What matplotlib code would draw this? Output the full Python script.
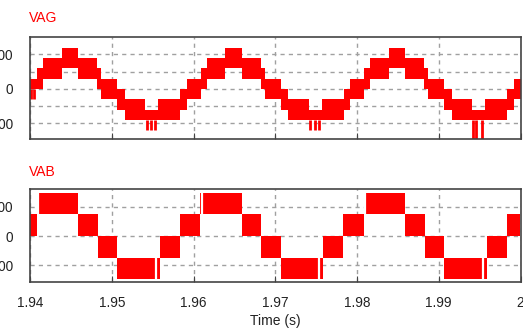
import matplotlib
matplotlib.use("Agg")
import matplotlib.pyplot as plt

plt.rcParams['font.family'] = ['Liberation Sans', 'DejaVu Sans']

# ---------------- data ----------------
# VAG : band segments (time edges, lower / upper envelope of the switching band, V)
vag_edges = [1.9400, 1.9409, 1.9416, 1.9439, 1.9459, 1.9482, 1.9487, 1.9507, 1.9516, 1.9541, 1.9557, 1.9584, 1.9592,
             1.9609, 1.9616, 1.9639, 1.9659, 1.9682, 1.9687, 1.9707, 1.9716, 1.9741, 1.9757, 1.9784, 1.9792,
             1.9809, 1.9816, 1.9839, 1.9859, 1.9882, 1.9887, 1.9907, 1.9916, 1.9941, 1.9957, 1.9984, 1.9992, 2.0000]
vag_low = [0,
           0, 60, 120, 60, 0, -60, -120, -180, -180, -180, -120,
           -60, 0, 60, 120, 60, 0, -60, -120, -180, -180, -180, -120,
           -60, 0, 60, 120, 60, 0, -60, -120, -180, -180, -180, -120,
           -60]
vag_high = [60,
            120, 180, 240, 180, 120, 60, 0, -60, -120, -60, 0,
            60, 120, 180, 240, 180, 120, 60, 0, -60, -120, -60, 0,
            60, 120, 180, 240, 180, 120, 60, 0, -60, -120, -60, 0,
            60]
# VAG narrow switching spikes
vag_spike_t = [1.94012, 1.94049, 1.95428, 1.95481, 1.95534, 1.97428, 1.97481, 1.97534, 1.99418, 1.99460, 1.99530]
vag_spike_lo = [-60, -60, -240, -240, -240, -240, -240, -240, -300, -300, -300]
vag_spike_hi = [0, 0, -180, -180, -180, -180, -180, -180, -180, -180, -180]

# VAB : band segments
vab_edges = [1.9400, 1.9408, 1.9459, 1.9483, 1.9507, 1.9559, 1.9583, 1.9608, 1.9659, 1.9683, 1.9707,
             1.9759, 1.9783, 1.9808, 1.9859, 1.9883, 1.9907, 1.9959, 1.9983, 2.0000]
vab_low = [0, 150, 0, -150, -296, -150, 0, 150, 0, -150, -296, -150, 0, 150, 0, -150, -296, -150, 0]
vab_high = [150, 296, 150, 0, -150, 0, 150, 296, 150, 0, -150, 0, 150, 296, 150, 0, -150, 0, 150]
# VAB short gaps (no switching) inside the outer blocks
vab_gap_t = [1.94098, 1.95536, 1.96105, 1.97536, 1.98100, 1.99536]
vab_gap_lo = [150, -296, 150, -296, 150, -296]
vab_gap_hi = [296, -150, 296, -150, 296, -150]

x_ticks = [1.94, 1.95, 1.96, 1.97, 1.98, 1.99, 2.00]
x_ticklabels = ['1.94', '1.95', '1.96', '1.97', '1.98', '1.99', '2']
vag_yticks = [-200, -100, 0, 100, 200]
vag_yticklabels = ['-200', '', '0', '', '200']
vab_yticks = [-200, 0, 200]
vab_yticklabels = ['-200', '0', '200']

# ---------------- figure ----------------
W, H = 523, 331
fig = plt.figure(figsize=(W / 100, H / 100), dpi=100)
RED = '#ff0000'
GRID = '#a0a0a0'
TXT = '#222222'

ax1 = fig.add_axes([30 / W, 1 - 139 / H, 490.5 / W, 102 / H])
ax2 = fig.add_axes([30 / W, 1 - 282 / H, 490.5 / W, 93 / H])


def draw_bands(ax, edges, lo, hi):
    t0 = edges[:-1]
    widths = [b - a for a, b in zip(edges[:-1], edges[1:])]
    heights = [h - l for l, h in zip(lo, hi)]
    ax.bar(t0, heights, width=widths, bottom=lo, align='edge',
           color=RED, linewidth=0, zorder=3)


draw_bands(ax1, vag_edges, vag_low, vag_high)
ax1.vlines(vag_spike_t, vag_spike_lo, vag_spike_hi, color=RED, lw=2.0, zorder=3)
draw_bands(ax2, vab_edges, vab_low, vab_high)
ax2.vlines(vab_gap_t, vab_gap_lo, vab_gap_hi, color='white', lw=1.6, zorder=4)

ax1.set_ylim(-290, 301)
ax2.set_ylim(-315, 322)

for ax, yt, ytl in ((ax1, vag_yticks, vag_yticklabels), (ax2, vab_yticks, vab_yticklabels)):
    ax.set_xlim(1.94, 2.0)
    ax.set_xticks(x_ticks)
    ax.set_yticks(yt)
    ax.set_yticklabels(ytl)
    ax.grid(True, color=GRID, linestyle=(0, (3, 3)), linewidth=1.0, zorder=1)
    ax.set_axisbelow(True)
    for s in ax.spines.values():
        s.set_color('#444444')
        s.set_linewidth(1.2)
        s.set_zorder(5)
    ax.tick_params(axis='y', length=0, pad=12, labelsize=9.8, labelcolor=TXT)
    ax.tick_params(axis='x', direction='in', length=4, color='#444444', labelsize=9.8,
                   labelcolor=TXT, pad=10)

ax1.tick_params(axis='x', labelbottom=False)
ax2.set_xticklabels(x_ticklabels)
ax2.set_xlabel('Time (s)', fontsize=10, color=TXT, labelpad=3)

fig.text(29 / W, 1 - 17.5 / H, 'VAG', color=RED, fontsize=10, ha='left', va='center')
fig.text(29 / W, 1 - 172 / H, 'VAB', color=RED, fontsize=10, ha='left', va='center')

fig.savefig('out.png', dpi=100)
